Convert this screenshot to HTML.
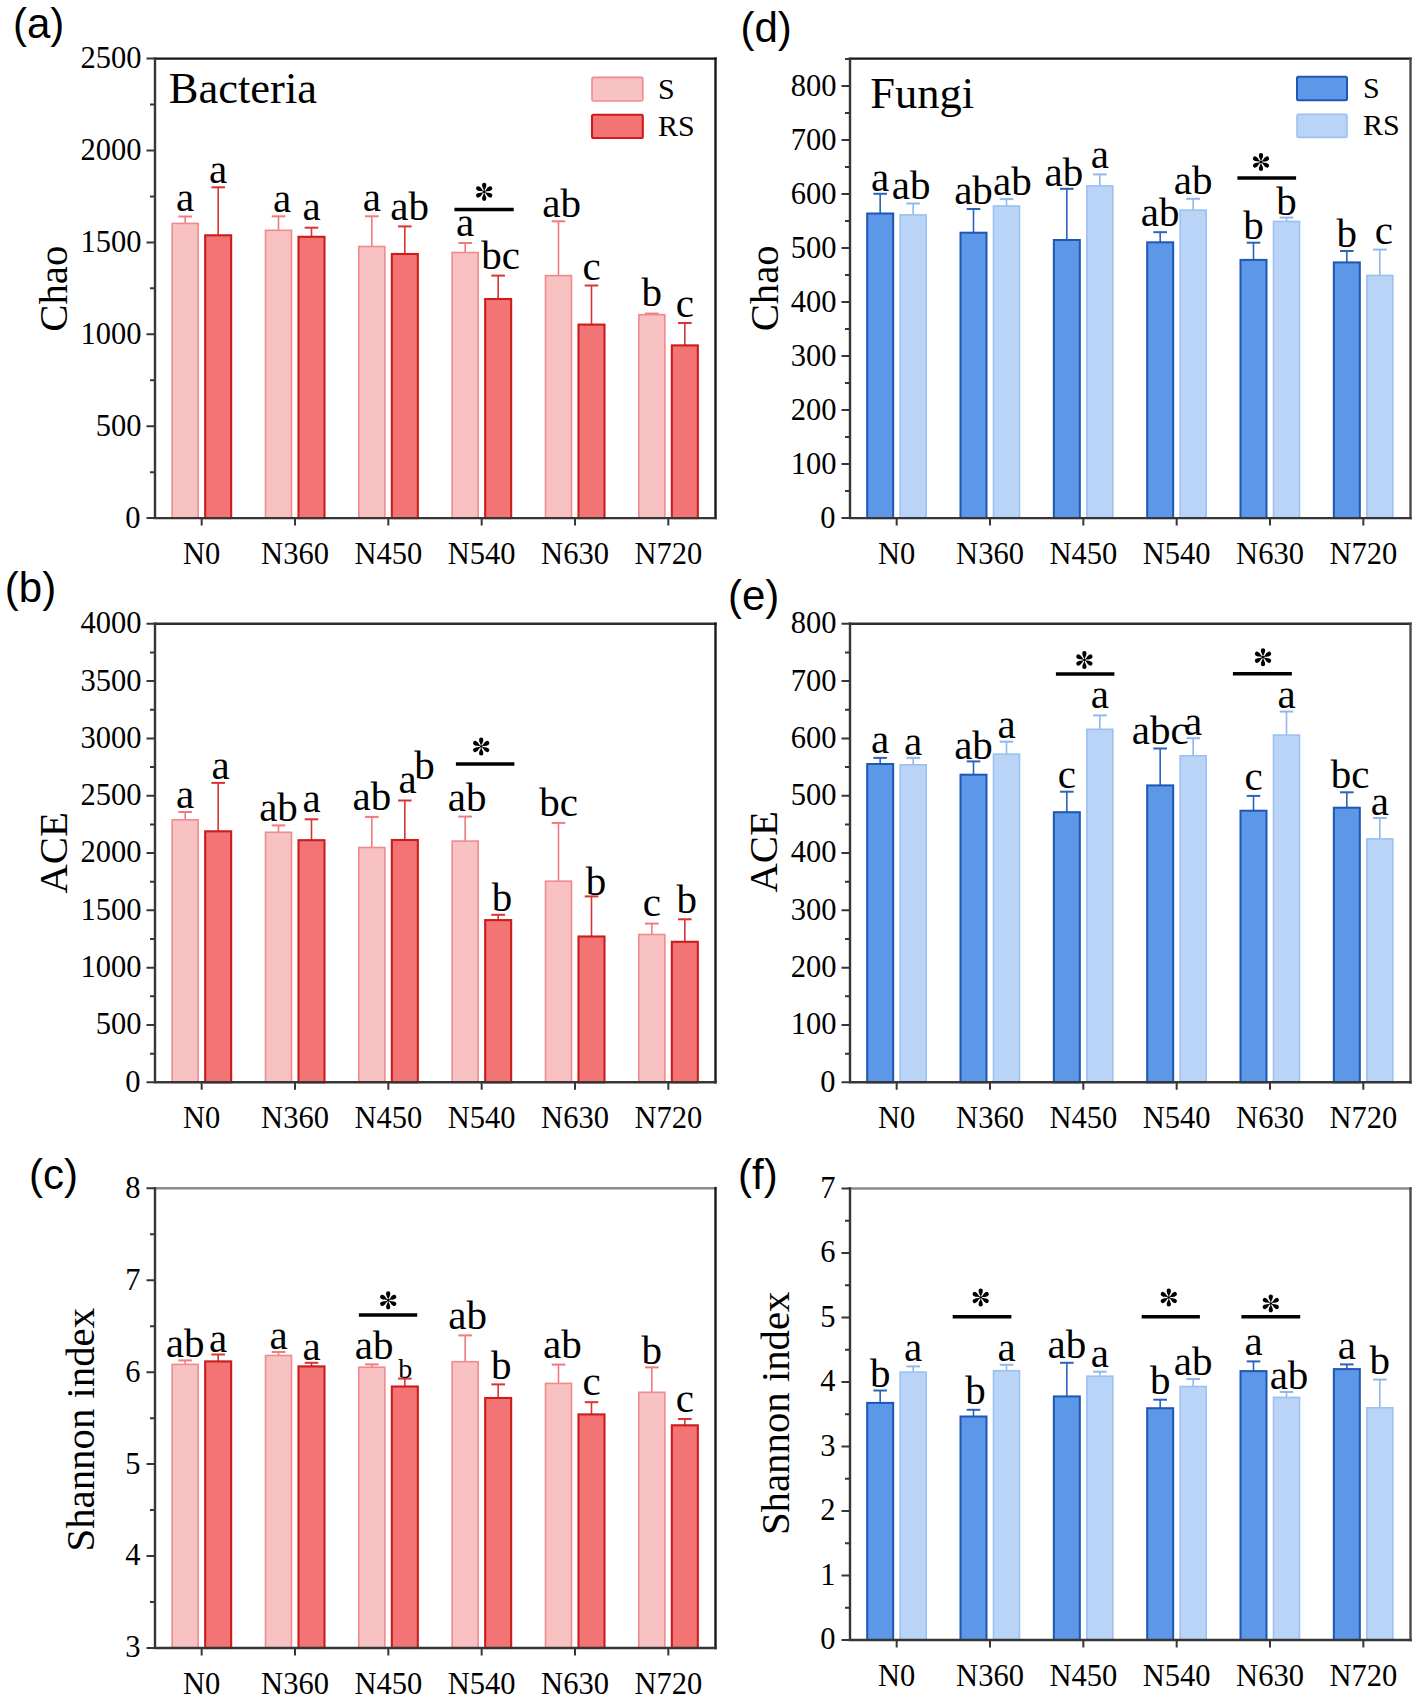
<!DOCTYPE html>
<html><head><meta charset="utf-8"><title>Bacteria and fungi diversity</title>
<style>
html,body{margin:0;padding:0;background:#fff;}
body{width:1418px;height:1701px;overflow:hidden;}
svg{display:block;}
text{font-family:"Liberation Serif", serif;fill:#000;}
.sans{font-family:"Liberation Sans", sans-serif;}
</style></head>
<body>
<svg width="1418" height="1701" viewBox="0 0 1418 1701">
<defs>
<path id="petal" d="M0 -0.6C-0.5 -2.6 -2.15 -4.4 -2.15 -6.9A2.15 2.15 0 0 1 2.15 -6.9C2.15 -4.4 0.5 -2.6 0 -0.6Z"/>
<g id="star" fill="#000"><use href="#petal"/><use href="#petal" transform="rotate(60)"/><use href="#petal" transform="rotate(120)"/><use href="#petal" transform="rotate(180)"/><use href="#petal" transform="rotate(240)"/><use href="#petal" transform="rotate(300)"/><circle r="1.3"/></g>
</defs>
<rect width="1418" height="1701" fill="#fff"/>
<line x1="185.17" y1="223.4" x2="185.17" y2="216.5" stroke="#F07A7C" stroke-width="1.6"/>
<line x1="178.37" y1="216.5" x2="191.97" y2="216.5" stroke="#F07A7C" stroke-width="2"/>
<rect x="172.17" y="223.4" width="26" height="294.7" fill="#F8C2C3" stroke="#F08A8C" stroke-width="1.6"/>
<text x="185.17" y="210.6" font-size="41" text-anchor="middle">a</text>
<line x1="218.17" y1="235.3" x2="218.17" y2="187.3" stroke="#D83434" stroke-width="1.6"/>
<line x1="211.37" y1="187.3" x2="224.97" y2="187.3" stroke="#D83434" stroke-width="2"/>
<rect x="205.17" y="235.3" width="26" height="282.8" fill="#F27474" stroke="#CC1C1C" stroke-width="2.1"/>
<text x="218.17" y="182.9" font-size="41" text-anchor="middle">a</text>
<line x1="278.5" y1="230.3" x2="278.5" y2="216.3" stroke="#F07A7C" stroke-width="1.6"/>
<line x1="271.7" y1="216.3" x2="285.3" y2="216.3" stroke="#F07A7C" stroke-width="2"/>
<rect x="265.5" y="230.3" width="26" height="287.8" fill="#F8C2C3" stroke="#F08A8C" stroke-width="1.6"/>
<text x="282.2" y="211.6" font-size="41" text-anchor="middle">a</text>
<line x1="311.5" y1="236.8" x2="311.5" y2="227.7" stroke="#D83434" stroke-width="1.6"/>
<line x1="304.7" y1="227.7" x2="318.3" y2="227.7" stroke="#D83434" stroke-width="2"/>
<rect x="298.5" y="236.8" width="26" height="281.3" fill="#F27474" stroke="#CC1C1C" stroke-width="2.1"/>
<text x="311.5" y="220.4" font-size="41" text-anchor="middle">a</text>
<line x1="371.83" y1="246.5" x2="371.83" y2="216.3" stroke="#F07A7C" stroke-width="1.6"/>
<line x1="365.03" y1="216.3" x2="378.63" y2="216.3" stroke="#F07A7C" stroke-width="2"/>
<rect x="358.83" y="246.5" width="26" height="271.6" fill="#F8C2C3" stroke="#F08A8C" stroke-width="1.6"/>
<text x="371.83" y="210.6" font-size="41" text-anchor="middle">a</text>
<line x1="404.83" y1="254" x2="404.83" y2="226.4" stroke="#D83434" stroke-width="1.6"/>
<line x1="398.03" y1="226.4" x2="411.63" y2="226.4" stroke="#D83434" stroke-width="2"/>
<rect x="391.83" y="254" width="26" height="264.1" fill="#F27474" stroke="#CC1C1C" stroke-width="2.1"/>
<text x="409.7" y="220.4" font-size="41" text-anchor="middle">ab</text>
<line x1="465.17" y1="252.5" x2="465.17" y2="243" stroke="#F07A7C" stroke-width="1.6"/>
<line x1="458.37" y1="243" x2="471.97" y2="243" stroke="#F07A7C" stroke-width="2"/>
<rect x="452.17" y="252.5" width="26" height="265.6" fill="#F8C2C3" stroke="#F08A8C" stroke-width="1.6"/>
<text x="465.17" y="235.8" font-size="41" text-anchor="middle">a</text>
<line x1="498.17" y1="299" x2="498.17" y2="275.6" stroke="#D83434" stroke-width="1.6"/>
<line x1="491.37" y1="275.6" x2="504.97" y2="275.6" stroke="#D83434" stroke-width="2"/>
<rect x="485.17" y="299" width="26" height="219.1" fill="#F27474" stroke="#CC1C1C" stroke-width="2.1"/>
<text x="500.7" y="269.3" font-size="41" text-anchor="middle">bc</text>
<line x1="558.5" y1="275.6" x2="558.5" y2="221.3" stroke="#F07A7C" stroke-width="1.6"/>
<line x1="551.7" y1="221.3" x2="565.3" y2="221.3" stroke="#F07A7C" stroke-width="2"/>
<rect x="545.5" y="275.6" width="26" height="242.5" fill="#F8C2C3" stroke="#F08A8C" stroke-width="1.6"/>
<text x="561.6" y="217" font-size="41" text-anchor="middle">ab</text>
<line x1="591.5" y1="324.6" x2="591.5" y2="285.5" stroke="#D83434" stroke-width="1.6"/>
<line x1="584.7" y1="285.5" x2="598.3" y2="285.5" stroke="#D83434" stroke-width="2"/>
<rect x="578.5" y="324.6" width="26" height="193.5" fill="#F27474" stroke="#CC1C1C" stroke-width="2.1"/>
<text x="591.5" y="280.2" font-size="41" text-anchor="middle">c</text>
<line x1="651.83" y1="314.7" x2="651.83" y2="313.6" stroke="#F07A7C" stroke-width="1.6"/>
<line x1="645.03" y1="313.6" x2="658.63" y2="313.6" stroke="#F07A7C" stroke-width="2"/>
<rect x="638.83" y="314.7" width="26" height="203.4" fill="#F8C2C3" stroke="#F08A8C" stroke-width="1.6"/>
<text x="651.83" y="305.9" font-size="41" text-anchor="middle">b</text>
<line x1="684.83" y1="345.4" x2="684.83" y2="323" stroke="#D83434" stroke-width="1.6"/>
<line x1="678.03" y1="323" x2="691.63" y2="323" stroke="#D83434" stroke-width="2"/>
<rect x="671.83" y="345.4" width="26" height="172.7" fill="#F27474" stroke="#CC1C1C" stroke-width="2.1"/>
<text x="684.83" y="316.7" font-size="41" text-anchor="middle">c</text>
<path d="M155 58.6H715.5" fill="none" stroke="#141414" stroke-width="2.4" stroke-linecap="square"/>
<path d="M715.5 58.6V518.1" fill="none" stroke="#171717" stroke-width="2.4" stroke-linecap="square"/>
<path d="M155 58.6V518.1H715.5" fill="none" stroke="#363636" stroke-width="2.4" stroke-linecap="square"/>
<text x="140.4" y="527.5" font-size="30.5" text-anchor="end">0</text>
<text x="141.4" y="435.6" font-size="30.5" text-anchor="end">500</text>
<text x="141.4" y="343.7" font-size="30.5" text-anchor="end">1000</text>
<text x="141.4" y="251.8" font-size="30.5" text-anchor="end">1500</text>
<text x="141.4" y="159.9" font-size="30.5" text-anchor="end">2000</text>
<text x="141.4" y="68" font-size="30.5" text-anchor="end">2500</text>
<text x="201.67" y="564.2" font-size="30.5" text-anchor="middle">N0</text>
<text x="295" y="564.2" font-size="30.5" text-anchor="middle">N360</text>
<text x="388.33" y="564.2" font-size="30.5" text-anchor="middle">N450</text>
<text x="481.67" y="564.2" font-size="30.5" text-anchor="middle">N540</text>
<text x="575" y="564.2" font-size="30.5" text-anchor="middle">N630</text>
<text x="668.33" y="564.2" font-size="30.5" text-anchor="middle">N720</text>
<path d="M155 518.1h-8.5M155 472.15h-5M155 426.2h-8.5M155 380.25h-5M155 334.3h-8.5M155 288.35h-5M155 242.4h-8.5M155 196.45h-5M155 150.5h-8.5M155 104.55h-5M155 58.6h-8.5M201.67 518.1v7.5M295 518.1v7.5M388.33 518.1v7.5M481.67 518.1v7.5M575 518.1v7.5M668.33 518.1v7.5" stroke="#363636" stroke-width="2" fill="none"/>
<text transform="translate(66.6 288.7) rotate(-90)" font-size="40.8" text-anchor="middle">Chao</text>
<text x="12.9" y="37.6" class="sans" font-size="42">(a)</text>
<line x1="185.17" y1="819.8" x2="185.17" y2="812" stroke="#F07A7C" stroke-width="1.6"/>
<line x1="178.37" y1="812" x2="191.97" y2="812" stroke="#F07A7C" stroke-width="2"/>
<rect x="172.17" y="819.8" width="26" height="262.5" fill="#F8C2C3" stroke="#F08A8C" stroke-width="1.6"/>
<text x="185.17" y="808" font-size="41" text-anchor="middle">a</text>
<line x1="218.17" y1="831.3" x2="218.17" y2="782.9" stroke="#D83434" stroke-width="1.6"/>
<line x1="211.37" y1="782.9" x2="224.97" y2="782.9" stroke="#D83434" stroke-width="2"/>
<rect x="205.17" y="831.3" width="26" height="251" fill="#F27474" stroke="#CC1C1C" stroke-width="2.1"/>
<text x="220.7" y="778.6" font-size="41" text-anchor="middle">a</text>
<line x1="278.5" y1="832.3" x2="278.5" y2="825.4" stroke="#F07A7C" stroke-width="1.6"/>
<line x1="271.7" y1="825.4" x2="285.3" y2="825.4" stroke="#F07A7C" stroke-width="2"/>
<rect x="265.5" y="832.3" width="26" height="250" fill="#F8C2C3" stroke="#F08A8C" stroke-width="1.6"/>
<text x="278.5" y="821.4" font-size="41" text-anchor="middle">ab</text>
<line x1="311.5" y1="840.2" x2="311.5" y2="819.3" stroke="#D83434" stroke-width="1.6"/>
<line x1="304.7" y1="819.3" x2="318.3" y2="819.3" stroke="#D83434" stroke-width="2"/>
<rect x="298.5" y="840.2" width="26" height="242.1" fill="#F27474" stroke="#CC1C1C" stroke-width="2.1"/>
<text x="311.5" y="812" font-size="41" text-anchor="middle">a</text>
<line x1="371.83" y1="847.5" x2="371.83" y2="816.9" stroke="#F07A7C" stroke-width="1.6"/>
<line x1="365.03" y1="816.9" x2="378.63" y2="816.9" stroke="#F07A7C" stroke-width="2"/>
<rect x="358.83" y="847.5" width="26" height="234.8" fill="#F8C2C3" stroke="#F08A8C" stroke-width="1.6"/>
<text x="371.83" y="810.2" font-size="41" text-anchor="middle">ab</text>
<line x1="404.83" y1="840" x2="404.83" y2="800.5" stroke="#D83434" stroke-width="1.6"/>
<line x1="398.03" y1="800.5" x2="411.63" y2="800.5" stroke="#D83434" stroke-width="2"/>
<rect x="391.83" y="840" width="26" height="242.3" fill="#F27474" stroke="#CC1C1C" stroke-width="2.1"/>
<line x1="465.17" y1="841.1" x2="465.17" y2="816.6" stroke="#F07A7C" stroke-width="1.6"/>
<line x1="458.37" y1="816.6" x2="471.97" y2="816.6" stroke="#F07A7C" stroke-width="2"/>
<rect x="452.17" y="841.1" width="26" height="241.2" fill="#F8C2C3" stroke="#F08A8C" stroke-width="1.6"/>
<text x="467.1" y="811.3" font-size="41" text-anchor="middle">ab</text>
<line x1="498.17" y1="920.1" x2="498.17" y2="914.8" stroke="#D83434" stroke-width="1.6"/>
<line x1="491.37" y1="914.8" x2="504.97" y2="914.8" stroke="#D83434" stroke-width="2"/>
<rect x="485.17" y="920.1" width="26" height="162.2" fill="#F27474" stroke="#CC1C1C" stroke-width="2.1"/>
<text x="502.1" y="911.4" font-size="41" text-anchor="middle">b</text>
<line x1="558.5" y1="881.2" x2="558.5" y2="822.9" stroke="#F07A7C" stroke-width="1.6"/>
<line x1="551.7" y1="822.9" x2="565.3" y2="822.9" stroke="#F07A7C" stroke-width="2"/>
<rect x="545.5" y="881.2" width="26" height="201.1" fill="#F8C2C3" stroke="#F08A8C" stroke-width="1.6"/>
<text x="558.5" y="815.6" font-size="41" text-anchor="middle">bc</text>
<line x1="591.5" y1="936.5" x2="591.5" y2="896.4" stroke="#D83434" stroke-width="1.6"/>
<line x1="584.7" y1="896.4" x2="598.3" y2="896.4" stroke="#D83434" stroke-width="2"/>
<rect x="578.5" y="936.5" width="26" height="145.8" fill="#F27474" stroke="#CC1C1C" stroke-width="2.1"/>
<text x="595.9" y="894.6" font-size="41" text-anchor="middle">b</text>
<line x1="651.83" y1="934.5" x2="651.83" y2="923.6" stroke="#F07A7C" stroke-width="1.6"/>
<line x1="645.03" y1="923.6" x2="658.63" y2="923.6" stroke="#F07A7C" stroke-width="2"/>
<rect x="638.83" y="934.5" width="26" height="147.8" fill="#F8C2C3" stroke="#F08A8C" stroke-width="1.6"/>
<text x="651.83" y="916" font-size="41" text-anchor="middle">c</text>
<line x1="684.83" y1="941.8" x2="684.83" y2="919.3" stroke="#D83434" stroke-width="1.6"/>
<line x1="678.03" y1="919.3" x2="691.63" y2="919.3" stroke="#D83434" stroke-width="2"/>
<rect x="671.83" y="941.8" width="26" height="140.5" fill="#F27474" stroke="#CC1C1C" stroke-width="2.1"/>
<text x="686.8" y="913.4" font-size="41" text-anchor="middle">b</text>
<path d="M155 623.8H715.5" fill="none" stroke="#2e2e2e" stroke-width="2.4" stroke-linecap="square"/>
<path d="M715.5 623.8V1082.3" fill="none" stroke="#1a1a1a" stroke-width="2.4" stroke-linecap="square"/>
<path d="M155 623.8V1082.3H715.5" fill="none" stroke="#363636" stroke-width="2.4" stroke-linecap="square"/>
<text x="140.4" y="1091.7" font-size="30.5" text-anchor="end">0</text>
<text x="141.4" y="1034.39" font-size="30.5" text-anchor="end">500</text>
<text x="141.4" y="977.07" font-size="30.5" text-anchor="end">1000</text>
<text x="141.4" y="919.76" font-size="30.5" text-anchor="end">1500</text>
<text x="141.4" y="862.45" font-size="30.5" text-anchor="end">2000</text>
<text x="141.4" y="805.14" font-size="30.5" text-anchor="end">2500</text>
<text x="141.4" y="747.82" font-size="30.5" text-anchor="end">3000</text>
<text x="141.4" y="690.51" font-size="30.5" text-anchor="end">3500</text>
<text x="141.4" y="633.2" font-size="30.5" text-anchor="end">4000</text>
<text x="201.67" y="1128.4" font-size="30.5" text-anchor="middle">N0</text>
<text x="295" y="1128.4" font-size="30.5" text-anchor="middle">N360</text>
<text x="388.33" y="1128.4" font-size="30.5" text-anchor="middle">N450</text>
<text x="481.67" y="1128.4" font-size="30.5" text-anchor="middle">N540</text>
<text x="575" y="1128.4" font-size="30.5" text-anchor="middle">N630</text>
<text x="668.33" y="1128.4" font-size="30.5" text-anchor="middle">N720</text>
<path d="M155 1082.3h-8.5M155 1053.64h-5M155 1024.99h-8.5M155 996.33h-5M155 967.67h-8.5M155 939.02h-5M155 910.36h-8.5M155 881.71h-5M155 853.05h-8.5M155 824.39h-5M155 795.74h-8.5M155 767.08h-5M155 738.42h-8.5M155 709.77h-5M155 681.11h-8.5M155 652.46h-5M155 623.8h-8.5M201.67 1082.3v7.5M295 1082.3v7.5M388.33 1082.3v7.5M481.67 1082.3v7.5M575 1082.3v7.5M668.33 1082.3v7.5" stroke="#363636" stroke-width="2" fill="none"/>
<text transform="translate(66.8 852.9) rotate(-90)" font-size="40.8" text-anchor="middle">ACE</text>
<text x="4.8" y="601.8" class="sans" font-size="42">(b)</text>
<line x1="185.17" y1="1364.4" x2="185.17" y2="1360.4" stroke="#F07A7C" stroke-width="1.6"/>
<line x1="178.37" y1="1360.4" x2="191.97" y2="1360.4" stroke="#F07A7C" stroke-width="2"/>
<rect x="172.17" y="1364.4" width="26" height="283.6" fill="#F8C2C3" stroke="#F08A8C" stroke-width="1.6"/>
<text x="185.17" y="1357.1" font-size="41" text-anchor="middle">ab</text>
<line x1="218.17" y1="1361.4" x2="218.17" y2="1354.5" stroke="#D83434" stroke-width="1.6"/>
<line x1="211.37" y1="1354.5" x2="224.97" y2="1354.5" stroke="#D83434" stroke-width="2"/>
<rect x="205.17" y="1361.4" width="26" height="286.6" fill="#F27474" stroke="#CC1C1C" stroke-width="2.1"/>
<text x="218.17" y="1352" font-size="41" text-anchor="middle">a</text>
<line x1="278.5" y1="1355.5" x2="278.5" y2="1352" stroke="#F07A7C" stroke-width="1.6"/>
<line x1="271.7" y1="1352" x2="285.3" y2="1352" stroke="#F07A7C" stroke-width="2"/>
<rect x="265.5" y="1355.5" width="26" height="292.5" fill="#F8C2C3" stroke="#F08A8C" stroke-width="1.6"/>
<text x="278.5" y="1348.6" font-size="41" text-anchor="middle">a</text>
<line x1="311.5" y1="1366.4" x2="311.5" y2="1362.8" stroke="#D83434" stroke-width="1.6"/>
<line x1="304.7" y1="1362.8" x2="318.3" y2="1362.8" stroke="#D83434" stroke-width="2"/>
<rect x="298.5" y="1366.4" width="26" height="281.6" fill="#F27474" stroke="#CC1C1C" stroke-width="2.1"/>
<text x="311.5" y="1359.5" font-size="41" text-anchor="middle">a</text>
<line x1="371.83" y1="1367.2" x2="371.83" y2="1364.4" stroke="#F07A7C" stroke-width="1.6"/>
<line x1="365.03" y1="1364.4" x2="378.63" y2="1364.4" stroke="#F07A7C" stroke-width="2"/>
<rect x="358.83" y="1367.2" width="26" height="280.8" fill="#F8C2C3" stroke="#F08A8C" stroke-width="1.6"/>
<text x="374.2" y="1358.5" font-size="41" text-anchor="middle">ab</text>
<line x1="404.83" y1="1386.5" x2="404.83" y2="1378.6" stroke="#D83434" stroke-width="1.6"/>
<line x1="398.03" y1="1378.6" x2="411.63" y2="1378.6" stroke="#D83434" stroke-width="2"/>
<rect x="391.83" y="1386.5" width="26" height="261.5" fill="#F27474" stroke="#CC1C1C" stroke-width="2.1"/>
<line x1="465.17" y1="1361.7" x2="465.17" y2="1335.4" stroke="#F07A7C" stroke-width="1.6"/>
<line x1="458.37" y1="1335.4" x2="471.97" y2="1335.4" stroke="#F07A7C" stroke-width="2"/>
<rect x="452.17" y="1361.7" width="26" height="286.3" fill="#F8C2C3" stroke="#F08A8C" stroke-width="1.6"/>
<text x="467.6" y="1329.1" font-size="41" text-anchor="middle">ab</text>
<line x1="498.17" y1="1398" x2="498.17" y2="1384.4" stroke="#D83434" stroke-width="1.6"/>
<line x1="491.37" y1="1384.4" x2="504.97" y2="1384.4" stroke="#D83434" stroke-width="2"/>
<rect x="485.17" y="1398" width="26" height="250" fill="#F27474" stroke="#CC1C1C" stroke-width="2.1"/>
<text x="501.2" y="1378.5" font-size="41" text-anchor="middle">b</text>
<line x1="558.5" y1="1383.4" x2="558.5" y2="1364.6" stroke="#F07A7C" stroke-width="1.6"/>
<line x1="551.7" y1="1364.6" x2="565.3" y2="1364.6" stroke="#F07A7C" stroke-width="2"/>
<rect x="545.5" y="1383.4" width="26" height="264.6" fill="#F8C2C3" stroke="#F08A8C" stroke-width="1.6"/>
<text x="562.4" y="1357.7" font-size="41" text-anchor="middle">ab</text>
<line x1="591.5" y1="1414.4" x2="591.5" y2="1402.2" stroke="#D83434" stroke-width="1.6"/>
<line x1="584.7" y1="1402.2" x2="598.3" y2="1402.2" stroke="#D83434" stroke-width="2"/>
<rect x="578.5" y="1414.4" width="26" height="233.6" fill="#F27474" stroke="#CC1C1C" stroke-width="2.1"/>
<text x="591.5" y="1395.3" font-size="41" text-anchor="middle">c</text>
<line x1="651.83" y1="1392.3" x2="651.83" y2="1367.4" stroke="#F07A7C" stroke-width="1.6"/>
<line x1="645.03" y1="1367.4" x2="658.63" y2="1367.4" stroke="#F07A7C" stroke-width="2"/>
<rect x="638.83" y="1392.3" width="26" height="255.7" fill="#F8C2C3" stroke="#F08A8C" stroke-width="1.6"/>
<text x="651.83" y="1364.1" font-size="41" text-anchor="middle">b</text>
<line x1="684.83" y1="1425.3" x2="684.83" y2="1419" stroke="#D83434" stroke-width="1.6"/>
<line x1="678.03" y1="1419" x2="691.63" y2="1419" stroke="#D83434" stroke-width="2"/>
<rect x="671.83" y="1425.3" width="26" height="222.7" fill="#F27474" stroke="#CC1C1C" stroke-width="2.1"/>
<text x="684.83" y="1412" font-size="41" text-anchor="middle">c</text>
<path d="M155 1188.3H715.5" fill="none" stroke="#8c8c8c" stroke-width="2.4" stroke-linecap="square"/>
<path d="M715.5 1188.3V1648" fill="none" stroke="#171717" stroke-width="2.4" stroke-linecap="square"/>
<path d="M155 1188.3V1648H715.5" fill="none" stroke="#363636" stroke-width="2.4" stroke-linecap="square"/>
<text x="140.4" y="1657.4" font-size="30.5" text-anchor="end">3</text>
<text x="140.4" y="1565.46" font-size="30.5" text-anchor="end">4</text>
<text x="140.4" y="1473.52" font-size="30.5" text-anchor="end">5</text>
<text x="140.4" y="1381.58" font-size="30.5" text-anchor="end">6</text>
<text x="140.4" y="1289.64" font-size="30.5" text-anchor="end">7</text>
<text x="140.4" y="1197.7" font-size="30.5" text-anchor="end">8</text>
<text x="201.67" y="1694.1" font-size="30.5" text-anchor="middle">N0</text>
<text x="295" y="1694.1" font-size="30.5" text-anchor="middle">N360</text>
<text x="388.33" y="1694.1" font-size="30.5" text-anchor="middle">N450</text>
<text x="481.67" y="1694.1" font-size="30.5" text-anchor="middle">N540</text>
<text x="575" y="1694.1" font-size="30.5" text-anchor="middle">N630</text>
<text x="668.33" y="1694.1" font-size="30.5" text-anchor="middle">N720</text>
<path d="M155 1648h-8.5M155 1602.03h-5M155 1556.06h-8.5M155 1510.09h-5M155 1464.12h-8.5M155 1418.15h-5M155 1372.18h-8.5M155 1326.21h-5M155 1280.24h-8.5M155 1234.27h-5M155 1188.3h-8.5M201.67 1648v7.5M295 1648v7.5M388.33 1648v7.5M481.67 1648v7.5M575 1648v7.5M668.33 1648v7.5" stroke="#363636" stroke-width="2" fill="none"/>
<text transform="translate(93.6 1429.7) rotate(-90)" font-size="40.8" text-anchor="middle">Shannon index</text>
<text x="29.1" y="1188.6" class="sans" font-size="42">(c)</text>
<line x1="880.17" y1="213.5" x2="880.17" y2="193.8" stroke="#2B62BC" stroke-width="1.6"/>
<line x1="873.37" y1="193.8" x2="886.97" y2="193.8" stroke="#2B62BC" stroke-width="2"/>
<rect x="867.17" y="213.5" width="26" height="304.6" fill="#5D97E7" stroke="#1F57B5" stroke-width="2.0"/>
<text x="880.17" y="190.8" font-size="41" text-anchor="middle">a</text>
<line x1="913.17" y1="214.9" x2="913.17" y2="203.5" stroke="#8FB8EE" stroke-width="1.6"/>
<line x1="906.37" y1="203.5" x2="919.97" y2="203.5" stroke="#8FB8EE" stroke-width="2"/>
<rect x="900.17" y="214.9" width="26" height="303.2" fill="#B9D4F6" stroke="#9BC1F1" stroke-width="1.6"/>
<text x="911.2" y="198.7" font-size="41" text-anchor="middle">ab</text>
<line x1="973.5" y1="232.7" x2="973.5" y2="209" stroke="#2B62BC" stroke-width="1.6"/>
<line x1="966.7" y1="209" x2="980.3" y2="209" stroke="#2B62BC" stroke-width="2"/>
<rect x="960.5" y="232.7" width="26" height="285.4" fill="#5D97E7" stroke="#1F57B5" stroke-width="2.0"/>
<text x="973.5" y="204.1" font-size="41" text-anchor="middle">ab</text>
<line x1="1006.5" y1="206" x2="1006.5" y2="199.1" stroke="#8FB8EE" stroke-width="1.6"/>
<line x1="999.7" y1="199.1" x2="1013.3" y2="199.1" stroke="#8FB8EE" stroke-width="2"/>
<rect x="993.5" y="206" width="26" height="312.1" fill="#B9D4F6" stroke="#9BC1F1" stroke-width="1.6"/>
<text x="1012.4" y="195.4" font-size="41" text-anchor="middle">ab</text>
<line x1="1066.83" y1="240" x2="1066.83" y2="188.8" stroke="#2B62BC" stroke-width="1.6"/>
<line x1="1060.03" y1="188.8" x2="1073.63" y2="188.8" stroke="#2B62BC" stroke-width="2"/>
<rect x="1053.83" y="240" width="26" height="278.1" fill="#5D97E7" stroke="#1F57B5" stroke-width="2.0"/>
<text x="1063.8" y="185.9" font-size="41" text-anchor="middle">ab</text>
<line x1="1099.83" y1="185.9" x2="1099.83" y2="174.4" stroke="#8FB8EE" stroke-width="1.6"/>
<line x1="1093.03" y1="174.4" x2="1106.63" y2="174.4" stroke="#8FB8EE" stroke-width="2"/>
<rect x="1086.83" y="185.9" width="26" height="332.2" fill="#B9D4F6" stroke="#9BC1F1" stroke-width="1.6"/>
<text x="1099.83" y="168.1" font-size="41" text-anchor="middle">a</text>
<line x1="1160.17" y1="242.3" x2="1160.17" y2="232.2" stroke="#2B62BC" stroke-width="1.6"/>
<line x1="1153.37" y1="232.2" x2="1166.97" y2="232.2" stroke="#2B62BC" stroke-width="2"/>
<rect x="1147.17" y="242.3" width="26" height="275.8" fill="#5D97E7" stroke="#1F57B5" stroke-width="2.0"/>
<text x="1160.17" y="225.9" font-size="41" text-anchor="middle">ab</text>
<line x1="1193.17" y1="210.1" x2="1193.17" y2="198.8" stroke="#8FB8EE" stroke-width="1.6"/>
<line x1="1186.37" y1="198.8" x2="1199.97" y2="198.8" stroke="#8FB8EE" stroke-width="2"/>
<rect x="1180.17" y="210.1" width="26" height="308" fill="#B9D4F6" stroke="#9BC1F1" stroke-width="1.6"/>
<text x="1193.17" y="193.9" font-size="41" text-anchor="middle">ab</text>
<line x1="1253.5" y1="259.9" x2="1253.5" y2="242.7" stroke="#2B62BC" stroke-width="1.6"/>
<line x1="1246.7" y1="242.7" x2="1260.3" y2="242.7" stroke="#2B62BC" stroke-width="2"/>
<rect x="1240.5" y="259.9" width="26" height="258.2" fill="#5D97E7" stroke="#1F57B5" stroke-width="2.0"/>
<text x="1253.5" y="239.3" font-size="41" text-anchor="middle">b</text>
<line x1="1286.5" y1="221.4" x2="1286.5" y2="217.6" stroke="#8FB8EE" stroke-width="1.6"/>
<line x1="1279.7" y1="217.6" x2="1293.3" y2="217.6" stroke="#8FB8EE" stroke-width="2"/>
<rect x="1273.5" y="221.4" width="26" height="296.7" fill="#B9D4F6" stroke="#9BC1F1" stroke-width="1.6"/>
<text x="1286.5" y="215.2" font-size="41" text-anchor="middle">b</text>
<line x1="1346.83" y1="262.4" x2="1346.83" y2="251" stroke="#2B62BC" stroke-width="1.6"/>
<line x1="1340.03" y1="251" x2="1353.63" y2="251" stroke="#2B62BC" stroke-width="2"/>
<rect x="1333.83" y="262.4" width="26" height="255.7" fill="#5D97E7" stroke="#1F57B5" stroke-width="2.0"/>
<text x="1346.83" y="247.2" font-size="41" text-anchor="middle">b</text>
<line x1="1379.83" y1="275.5" x2="1379.83" y2="249.6" stroke="#8FB8EE" stroke-width="1.6"/>
<line x1="1373.03" y1="249.6" x2="1386.63" y2="249.6" stroke="#8FB8EE" stroke-width="2"/>
<rect x="1366.83" y="275.5" width="26" height="242.6" fill="#B9D4F6" stroke="#9BC1F1" stroke-width="1.6"/>
<text x="1383.8" y="244.3" font-size="41" text-anchor="middle">c</text>
<path d="M850 58.6H1410.5" fill="none" stroke="#171717" stroke-width="2.4" stroke-linecap="square"/>
<path d="M1410.5 58.6V518.1" fill="none" stroke="#4a4a4a" stroke-width="2.4" stroke-linecap="square"/>
<path d="M850 58.6V518.1H1410.5" fill="none" stroke="#363636" stroke-width="2.4" stroke-linecap="square"/>
<text x="835.4" y="527.5" font-size="30.5" text-anchor="end">0</text>
<text x="836.4" y="473.5" font-size="30.5" text-anchor="end">100</text>
<text x="836.4" y="419.5" font-size="30.5" text-anchor="end">200</text>
<text x="836.4" y="365.5" font-size="30.5" text-anchor="end">300</text>
<text x="836.4" y="311.5" font-size="30.5" text-anchor="end">400</text>
<text x="836.4" y="257.5" font-size="30.5" text-anchor="end">500</text>
<text x="836.4" y="203.5" font-size="30.5" text-anchor="end">600</text>
<text x="836.4" y="149.5" font-size="30.5" text-anchor="end">700</text>
<text x="836.4" y="95.5" font-size="30.5" text-anchor="end">800</text>
<text x="896.67" y="564.2" font-size="30.5" text-anchor="middle">N0</text>
<text x="990" y="564.2" font-size="30.5" text-anchor="middle">N360</text>
<text x="1083.33" y="564.2" font-size="30.5" text-anchor="middle">N450</text>
<text x="1176.67" y="564.2" font-size="30.5" text-anchor="middle">N540</text>
<text x="1270" y="564.2" font-size="30.5" text-anchor="middle">N630</text>
<text x="1363.33" y="564.2" font-size="30.5" text-anchor="middle">N720</text>
<path d="M850 518.1h-8.5M850 491.1h-5M850 464.1h-8.5M850 437.1h-5M850 410.1h-8.5M850 383.1h-5M850 356.1h-8.5M850 329.1h-5M850 302.1h-8.5M850 275.1h-5M850 248.1h-8.5M850 221.1h-5M850 194.1h-8.5M850 167.1h-5M850 140.1h-8.5M850 113.1h-5M850 86.1h-8.5M850 59.1h-5M896.67 518.1v7.5M990 518.1v7.5M1083.33 518.1v7.5M1176.67 518.1v7.5M1270 518.1v7.5M1363.33 518.1v7.5" stroke="#363636" stroke-width="2" fill="none"/>
<text transform="translate(777.5 288.3) rotate(-90)" font-size="40.8" text-anchor="middle">Chao</text>
<text x="740.4" y="42" class="sans" font-size="42">(d)</text>
<line x1="880.17" y1="764" x2="880.17" y2="757.9" stroke="#2B62BC" stroke-width="1.6"/>
<line x1="873.37" y1="757.9" x2="886.97" y2="757.9" stroke="#2B62BC" stroke-width="2"/>
<rect x="867.17" y="764" width="26" height="318.3" fill="#5D97E7" stroke="#1F57B5" stroke-width="2.0"/>
<text x="880.17" y="753.2" font-size="41" text-anchor="middle">a</text>
<line x1="913.17" y1="764.8" x2="913.17" y2="757.9" stroke="#8FB8EE" stroke-width="1.6"/>
<line x1="906.37" y1="757.9" x2="919.97" y2="757.9" stroke="#8FB8EE" stroke-width="2"/>
<rect x="900.17" y="764.8" width="26" height="317.5" fill="#B9D4F6" stroke="#9BC1F1" stroke-width="1.6"/>
<text x="913.17" y="755.1" font-size="41" text-anchor="middle">a</text>
<line x1="973.5" y1="774.7" x2="973.5" y2="761.4" stroke="#2B62BC" stroke-width="1.6"/>
<line x1="966.7" y1="761.4" x2="980.3" y2="761.4" stroke="#2B62BC" stroke-width="2"/>
<rect x="960.5" y="774.7" width="26" height="307.6" fill="#5D97E7" stroke="#1F57B5" stroke-width="2.0"/>
<text x="973.5" y="758.7" font-size="41" text-anchor="middle">ab</text>
<line x1="1006.5" y1="754.1" x2="1006.5" y2="741.7" stroke="#8FB8EE" stroke-width="1.6"/>
<line x1="999.7" y1="741.7" x2="1013.3" y2="741.7" stroke="#8FB8EE" stroke-width="2"/>
<rect x="993.5" y="754.1" width="26" height="328.2" fill="#B9D4F6" stroke="#9BC1F1" stroke-width="1.6"/>
<text x="1006.5" y="738.3" font-size="41" text-anchor="middle">a</text>
<line x1="1066.83" y1="812.2" x2="1066.83" y2="791.7" stroke="#2B62BC" stroke-width="1.6"/>
<line x1="1060.03" y1="791.7" x2="1073.63" y2="791.7" stroke="#2B62BC" stroke-width="2"/>
<rect x="1053.83" y="812.2" width="26" height="270.1" fill="#5D97E7" stroke="#1F57B5" stroke-width="2.0"/>
<text x="1066.83" y="788.3" font-size="41" text-anchor="middle">c</text>
<line x1="1099.83" y1="729.3" x2="1099.83" y2="715.4" stroke="#8FB8EE" stroke-width="1.6"/>
<line x1="1093.03" y1="715.4" x2="1106.63" y2="715.4" stroke="#8FB8EE" stroke-width="2"/>
<rect x="1086.83" y="729.3" width="26" height="353" fill="#B9D4F6" stroke="#9BC1F1" stroke-width="1.6"/>
<text x="1099.83" y="707.7" font-size="41" text-anchor="middle">a</text>
<line x1="1160.17" y1="785.4" x2="1160.17" y2="748.5" stroke="#2B62BC" stroke-width="1.6"/>
<line x1="1153.37" y1="748.5" x2="1166.97" y2="748.5" stroke="#2B62BC" stroke-width="2"/>
<rect x="1147.17" y="785.4" width="26" height="296.9" fill="#5D97E7" stroke="#1F57B5" stroke-width="2.0"/>
<text x="1160.17" y="744.1" font-size="41" text-anchor="middle">abc</text>
<line x1="1193.17" y1="755.8" x2="1193.17" y2="738.2" stroke="#8FB8EE" stroke-width="1.6"/>
<line x1="1186.37" y1="738.2" x2="1199.97" y2="738.2" stroke="#8FB8EE" stroke-width="2"/>
<rect x="1180.17" y="755.8" width="26" height="326.5" fill="#B9D4F6" stroke="#9BC1F1" stroke-width="1.6"/>
<text x="1193.17" y="735.3" font-size="41" text-anchor="middle">a</text>
<line x1="1253.5" y1="810.7" x2="1253.5" y2="795.9" stroke="#2B62BC" stroke-width="1.6"/>
<line x1="1246.7" y1="795.9" x2="1260.3" y2="795.9" stroke="#2B62BC" stroke-width="2"/>
<rect x="1240.5" y="810.7" width="26" height="271.6" fill="#5D97E7" stroke="#1F57B5" stroke-width="2.0"/>
<text x="1253.5" y="790.2" font-size="41" text-anchor="middle">c</text>
<line x1="1286.5" y1="735.1" x2="1286.5" y2="711.6" stroke="#8FB8EE" stroke-width="1.6"/>
<line x1="1279.7" y1="711.6" x2="1293.3" y2="711.6" stroke="#8FB8EE" stroke-width="2"/>
<rect x="1273.5" y="735.1" width="26" height="347.2" fill="#B9D4F6" stroke="#9BC1F1" stroke-width="1.6"/>
<text x="1286.5" y="708" font-size="41" text-anchor="middle">a</text>
<line x1="1346.83" y1="807.7" x2="1346.83" y2="792.3" stroke="#2B62BC" stroke-width="1.6"/>
<line x1="1340.03" y1="792.3" x2="1353.63" y2="792.3" stroke="#2B62BC" stroke-width="2"/>
<rect x="1333.83" y="807.7" width="26" height="274.6" fill="#5D97E7" stroke="#1F57B5" stroke-width="2.0"/>
<text x="1350.2" y="787.6" font-size="41" text-anchor="middle">bc</text>
<line x1="1379.83" y1="838.9" x2="1379.83" y2="818" stroke="#8FB8EE" stroke-width="1.6"/>
<line x1="1373.03" y1="818" x2="1386.63" y2="818" stroke="#8FB8EE" stroke-width="2"/>
<rect x="1366.83" y="838.9" width="26" height="243.4" fill="#B9D4F6" stroke="#9BC1F1" stroke-width="1.6"/>
<text x="1379.83" y="815.2" font-size="41" text-anchor="middle">a</text>
<path d="M850 623.8H1410.5" fill="none" stroke="#303030" stroke-width="2.4" stroke-linecap="square"/>
<path d="M1410.5 623.8V1082.3" fill="none" stroke="#4a4a4a" stroke-width="2.4" stroke-linecap="square"/>
<path d="M850 623.8V1082.3H1410.5" fill="none" stroke="#363636" stroke-width="2.4" stroke-linecap="square"/>
<text x="835.4" y="1091.7" font-size="30.5" text-anchor="end">0</text>
<text x="836.4" y="1034.39" font-size="30.5" text-anchor="end">100</text>
<text x="836.4" y="977.07" font-size="30.5" text-anchor="end">200</text>
<text x="836.4" y="919.76" font-size="30.5" text-anchor="end">300</text>
<text x="836.4" y="862.45" font-size="30.5" text-anchor="end">400</text>
<text x="836.4" y="805.14" font-size="30.5" text-anchor="end">500</text>
<text x="836.4" y="747.82" font-size="30.5" text-anchor="end">600</text>
<text x="836.4" y="690.51" font-size="30.5" text-anchor="end">700</text>
<text x="836.4" y="633.2" font-size="30.5" text-anchor="end">800</text>
<text x="896.67" y="1128.4" font-size="30.5" text-anchor="middle">N0</text>
<text x="990" y="1128.4" font-size="30.5" text-anchor="middle">N360</text>
<text x="1083.33" y="1128.4" font-size="30.5" text-anchor="middle">N450</text>
<text x="1176.67" y="1128.4" font-size="30.5" text-anchor="middle">N540</text>
<text x="1270" y="1128.4" font-size="30.5" text-anchor="middle">N630</text>
<text x="1363.33" y="1128.4" font-size="30.5" text-anchor="middle">N720</text>
<path d="M850 1082.3h-8.5M850 1053.64h-5M850 1024.99h-8.5M850 996.33h-5M850 967.67h-8.5M850 939.02h-5M850 910.36h-8.5M850 881.71h-5M850 853.05h-8.5M850 824.39h-5M850 795.74h-8.5M850 767.08h-5M850 738.42h-8.5M850 709.77h-5M850 681.11h-8.5M850 652.46h-5M850 623.8h-8.5M896.67 1082.3v7.5M990 1082.3v7.5M1083.33 1082.3v7.5M1176.67 1082.3v7.5M1270 1082.3v7.5M1363.33 1082.3v7.5" stroke="#363636" stroke-width="2" fill="none"/>
<text transform="translate(777.4 852) rotate(-90)" font-size="40.8" text-anchor="middle">ACE</text>
<text x="728" y="610.2" class="sans" font-size="42">(e)</text>
<line x1="880.17" y1="1402.9" x2="880.17" y2="1390.5" stroke="#2B62BC" stroke-width="1.6"/>
<line x1="873.37" y1="1390.5" x2="886.97" y2="1390.5" stroke="#2B62BC" stroke-width="2"/>
<rect x="867.17" y="1402.9" width="26" height="237.1" fill="#5D97E7" stroke="#1F57B5" stroke-width="2.0"/>
<text x="880.17" y="1387.1" font-size="41" text-anchor="middle">b</text>
<line x1="913.17" y1="1372.1" x2="913.17" y2="1366.4" stroke="#8FB8EE" stroke-width="1.6"/>
<line x1="906.37" y1="1366.4" x2="919.97" y2="1366.4" stroke="#8FB8EE" stroke-width="2"/>
<rect x="900.17" y="1372.1" width="26" height="267.9" fill="#B9D4F6" stroke="#9BC1F1" stroke-width="1.6"/>
<text x="913.17" y="1361.4" font-size="41" text-anchor="middle">a</text>
<line x1="973.5" y1="1416.5" x2="973.5" y2="1409.8" stroke="#2B62BC" stroke-width="1.6"/>
<line x1="966.7" y1="1409.8" x2="980.3" y2="1409.8" stroke="#2B62BC" stroke-width="2"/>
<rect x="960.5" y="1416.5" width="26" height="223.5" fill="#5D97E7" stroke="#1F57B5" stroke-width="2.0"/>
<text x="975.6" y="1403.9" font-size="41" text-anchor="middle">b</text>
<line x1="1006.5" y1="1370.7" x2="1006.5" y2="1364.8" stroke="#8FB8EE" stroke-width="1.6"/>
<line x1="999.7" y1="1364.8" x2="1013.3" y2="1364.8" stroke="#8FB8EE" stroke-width="2"/>
<rect x="993.5" y="1370.7" width="26" height="269.3" fill="#B9D4F6" stroke="#9BC1F1" stroke-width="1.6"/>
<text x="1006.5" y="1361.4" font-size="41" text-anchor="middle">a</text>
<line x1="1066.83" y1="1396.4" x2="1066.83" y2="1362.8" stroke="#2B62BC" stroke-width="1.6"/>
<line x1="1060.03" y1="1362.8" x2="1073.63" y2="1362.8" stroke="#2B62BC" stroke-width="2"/>
<rect x="1053.83" y="1396.4" width="26" height="243.6" fill="#5D97E7" stroke="#1F57B5" stroke-width="2.0"/>
<text x="1066.83" y="1357.5" font-size="41" text-anchor="middle">ab</text>
<line x1="1099.83" y1="1376.2" x2="1099.83" y2="1371.7" stroke="#8FB8EE" stroke-width="1.6"/>
<line x1="1093.03" y1="1371.7" x2="1106.63" y2="1371.7" stroke="#8FB8EE" stroke-width="2"/>
<rect x="1086.83" y="1376.2" width="26" height="263.8" fill="#B9D4F6" stroke="#9BC1F1" stroke-width="1.6"/>
<text x="1099.83" y="1367.4" font-size="41" text-anchor="middle">a</text>
<line x1="1160.17" y1="1408.2" x2="1160.17" y2="1399.7" stroke="#2B62BC" stroke-width="1.6"/>
<line x1="1153.37" y1="1399.7" x2="1166.97" y2="1399.7" stroke="#2B62BC" stroke-width="2"/>
<rect x="1147.17" y="1408.2" width="26" height="231.8" fill="#5D97E7" stroke="#1F57B5" stroke-width="2.0"/>
<text x="1160.17" y="1394" font-size="41" text-anchor="middle">b</text>
<line x1="1193.17" y1="1386.5" x2="1193.17" y2="1379" stroke="#8FB8EE" stroke-width="1.6"/>
<line x1="1186.37" y1="1379" x2="1199.97" y2="1379" stroke="#8FB8EE" stroke-width="2"/>
<rect x="1180.17" y="1386.5" width="26" height="253.5" fill="#B9D4F6" stroke="#9BC1F1" stroke-width="1.6"/>
<text x="1193.17" y="1375.3" font-size="41" text-anchor="middle">ab</text>
<line x1="1253.5" y1="1371.1" x2="1253.5" y2="1361.4" stroke="#2B62BC" stroke-width="1.6"/>
<line x1="1246.7" y1="1361.4" x2="1260.3" y2="1361.4" stroke="#2B62BC" stroke-width="2"/>
<rect x="1240.5" y="1371.1" width="26" height="268.9" fill="#5D97E7" stroke="#1F57B5" stroke-width="2.0"/>
<text x="1253.5" y="1354.5" font-size="41" text-anchor="middle">a</text>
<line x1="1286.5" y1="1397.4" x2="1286.5" y2="1392" stroke="#8FB8EE" stroke-width="1.6"/>
<line x1="1279.7" y1="1392" x2="1293.3" y2="1392" stroke="#8FB8EE" stroke-width="2"/>
<rect x="1273.5" y="1397.4" width="26" height="242.6" fill="#B9D4F6" stroke="#9BC1F1" stroke-width="1.6"/>
<text x="1289" y="1389.1" font-size="41" text-anchor="middle">ab</text>
<line x1="1346.83" y1="1369.1" x2="1346.83" y2="1364.4" stroke="#2B62BC" stroke-width="1.6"/>
<line x1="1340.03" y1="1364.4" x2="1353.63" y2="1364.4" stroke="#2B62BC" stroke-width="2"/>
<rect x="1333.83" y="1369.1" width="26" height="270.9" fill="#5D97E7" stroke="#1F57B5" stroke-width="2.0"/>
<text x="1346.83" y="1358.5" font-size="41" text-anchor="middle">a</text>
<line x1="1379.83" y1="1407.8" x2="1379.83" y2="1379.6" stroke="#8FB8EE" stroke-width="1.6"/>
<line x1="1373.03" y1="1379.6" x2="1386.63" y2="1379.6" stroke="#8FB8EE" stroke-width="2"/>
<rect x="1366.83" y="1407.8" width="26" height="232.2" fill="#B9D4F6" stroke="#9BC1F1" stroke-width="1.6"/>
<text x="1379.83" y="1374.3" font-size="41" text-anchor="middle">b</text>
<path d="M850 1188.5H1410.5" fill="none" stroke="#8c8c8c" stroke-width="2.4" stroke-linecap="square"/>
<path d="M1410.5 1188.5V1640" fill="none" stroke="#4a4a4a" stroke-width="2.4" stroke-linecap="square"/>
<path d="M850 1188.5V1640H1410.5" fill="none" stroke="#363636" stroke-width="2.4" stroke-linecap="square"/>
<text x="835.4" y="1649.4" font-size="30.5" text-anchor="end">0</text>
<text x="835.4" y="1584.9" font-size="30.5" text-anchor="end">1</text>
<text x="835.4" y="1520.4" font-size="30.5" text-anchor="end">2</text>
<text x="835.4" y="1455.9" font-size="30.5" text-anchor="end">3</text>
<text x="835.4" y="1391.4" font-size="30.5" text-anchor="end">4</text>
<text x="835.4" y="1326.9" font-size="30.5" text-anchor="end">5</text>
<text x="835.4" y="1262.4" font-size="30.5" text-anchor="end">6</text>
<text x="835.4" y="1197.9" font-size="30.5" text-anchor="end">7</text>
<text x="896.67" y="1686.1" font-size="30.5" text-anchor="middle">N0</text>
<text x="990" y="1686.1" font-size="30.5" text-anchor="middle">N360</text>
<text x="1083.33" y="1686.1" font-size="30.5" text-anchor="middle">N450</text>
<text x="1176.67" y="1686.1" font-size="30.5" text-anchor="middle">N540</text>
<text x="1270" y="1686.1" font-size="30.5" text-anchor="middle">N630</text>
<text x="1363.33" y="1686.1" font-size="30.5" text-anchor="middle">N720</text>
<path d="M850 1640h-8.5M850 1607.75h-5M850 1575.5h-8.5M850 1543.25h-5M850 1511h-8.5M850 1478.75h-5M850 1446.5h-8.5M850 1414.25h-5M850 1382h-8.5M850 1349.75h-5M850 1317.5h-8.5M850 1285.25h-5M850 1253h-8.5M850 1220.75h-5M850 1188.5h-8.5M896.67 1640v7.5M990 1640v7.5M1083.33 1640v7.5M1176.67 1640v7.5M1270 1640v7.5M1363.33 1640v7.5" stroke="#363636" stroke-width="2" fill="none"/>
<text transform="translate(789.3 1413.3) rotate(-90)" font-size="40.8" text-anchor="middle">Shannon index</text>
<text x="738.1" y="1188.7" class="sans" font-size="42">(f)</text>
<text x="398.5" y="792.8" font-size="41" text-anchor="start">a</text>
<text x="414.3" y="779.3" font-size="41" text-anchor="start">b</text>
<text x="405.2" y="1377.9" font-size="28" text-anchor="middle">b</text>
<line x1="454.4" y1="209.5" x2="513.7" y2="209.5" stroke="#000" stroke-width="3.5"/>
<use href="#star" transform="translate(484.2 191.85)"/>
<line x1="455.9" y1="764" x2="514.4" y2="764" stroke="#000" stroke-width="3.5"/>
<use href="#star" transform="translate(481.2 746.55)"/>
<line x1="358.9" y1="1315" x2="417.2" y2="1315" stroke="#000" stroke-width="3.5"/>
<use href="#star" transform="translate(388.2 1300.35)"/>
<line x1="1237.4" y1="178" x2="1296.1" y2="178" stroke="#000" stroke-width="3.5"/>
<use href="#star" transform="translate(1261 162.05)"/>
<line x1="1055.9" y1="673.9" x2="1114.4" y2="673.9" stroke="#000" stroke-width="3.5"/>
<use href="#star" transform="translate(1084.4 660.05)"/>
<line x1="1232.9" y1="673.7" x2="1291.9" y2="673.7" stroke="#000" stroke-width="3.5"/>
<use href="#star" transform="translate(1263 657.25)"/>
<line x1="952.7" y1="1316.8" x2="1011.4" y2="1316.8" stroke="#000" stroke-width="3.5"/>
<use href="#star" transform="translate(980.7 1297.55)"/>
<line x1="1141.7" y1="1316.8" x2="1199.9" y2="1316.8" stroke="#000" stroke-width="3.5"/>
<use href="#star" transform="translate(1168.8 1297.55)"/>
<line x1="1241.4" y1="1316.8" x2="1300.2" y2="1316.8" stroke="#000" stroke-width="3.5"/>
<use href="#star" transform="translate(1270.8 1303.45)"/>
<rect x="592" y="77.4" width="50.8" height="23.6" rx="1.5" fill="#F8C2C3" stroke="#F08A8C" stroke-width="1.6"/>
<text x="658" y="99" font-size="30">S</text>
<rect x="592" y="114.8" width="50.8" height="23.2" rx="1.5" fill="#F27474" stroke="#CC1C1C" stroke-width="2.1"/>
<text x="658" y="135.6" font-size="30">RS</text>
<rect x="1297" y="76.8" width="50" height="23.4" rx="1.5" fill="#5D97E7" stroke="#1F57B5" stroke-width="2.0"/>
<text x="1363" y="98.4" font-size="30">S</text>
<rect x="1297" y="114.2" width="50" height="23.2" rx="1.5" fill="#B9D4F6" stroke="#9BC1F1" stroke-width="1.6"/>
<text x="1363" y="134.8" font-size="30">RS</text>
<text x="168.8" y="102.6" font-size="44.5">Bacteria</text>
<text x="870.2" y="108.4" font-size="44.5">Fungi</text>
</svg>
</body></html>
